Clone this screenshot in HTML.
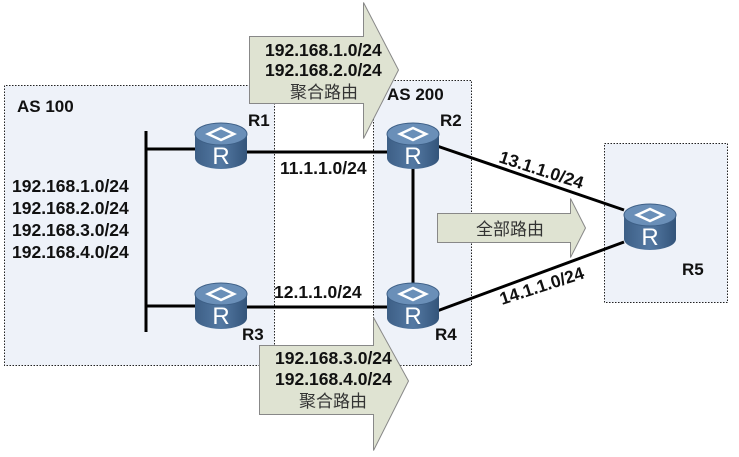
<!DOCTYPE html>
<html><head><meta charset="utf-8"><style>body{margin:0;background:#fff}svg{display:block}</style></head><body>
<svg width="739" height="457" viewBox="0 0 739 457" xmlns="http://www.w3.org/2000/svg" font-family="Liberation Sans, Noto Sans CJK SC, sans-serif">
<defs>
<linearGradient id="rb" x1="0" x2="1" y1="0" y2="0"><stop offset="0" stop-color="#3d5f86"/><stop offset="0.5" stop-color="#5479a3"/><stop offset="1" stop-color="#33547a"/></linearGradient>
<g id="rt">
<path d="M-26,-12 L-26,12 A26,11 0 0 0 26,12 L26,-12 Z" fill="url(#rb)"/>
<ellipse cx="0" cy="-12" rx="26" ry="11" fill="#6a8fb8" stroke="#3d5f86" stroke-width="1"/>
<path d="M-13,-12 L0,-18 L13,-12 L0,-6 Z" fill="none" stroke="#fff" stroke-width="2.5"/>
</g>
</defs>
<rect x="4.5" y="85.5" width="270" height="280" fill="#eef2f9"/>
<rect x="373.5" y="80.5" width="98" height="285" fill="#eef2f9"/>
<g fill="none" stroke="#222" stroke-dasharray="1.5,1.5">
<path d="M274.5,85.5 H4.5 V365.5 H274.5"/>
<path d="M373.5,80.5 H471.5 V365.5 H373.5"/>
<line x1="274.5" y1="85" x2="274.5" y2="366"/>
<line x1="373.5" y1="80" x2="373.5" y2="366"/>
<line x1="274.5" y1="365.5" x2="373.5" y2="365.5"/>
</g>
<rect x="604.5" y="143.5" width="123" height="159" fill="#eef2f9" stroke="#222" stroke-dasharray="1.5,1.5"/>
<g stroke="#000" stroke-width="3">
<line x1="146" y1="131" x2="146" y2="332"/>
<line x1="146" y1="149" x2="200" y2="149"/>
<line x1="146" y1="306" x2="200" y2="306"/>
<line x1="240" y1="152" x2="395" y2="152"/>
<line x1="240" y1="307" x2="395" y2="307"/>
<line x1="413" y1="160" x2="413" y2="292"/>
<line x1="437" y1="146" x2="624" y2="210"/>
<line x1="437" y1="311" x2="624" y2="242"/>
</g>
<g fill="#dfe3d2" stroke="#888" stroke-width="1">
<path d="M249.5,36.5 H363.5 V2.5 L398.5,70 L363.5,138.5 V103.5 H249.5 Z"/>
<path d="M259.5,345.5 H373.5 V317.5 L408.5,381 L373.5,450.5 V414.5 H259.5 Z"/>
<path d="M437.5,213.5 H570.5 V198.5 L585.5,228 L570.5,257.5 V242.5 H437.5 Z"/>
</g>
<use href="#rt" x="221" y="146"/>
<use href="#rt" x="221" y="306"/>
<use href="#rt" x="413" y="146"/>
<use href="#rt" x="413" y="306"/>
<use href="#rt" x="650" y="227"/>
<g fill="#fff" font-size="24" text-anchor="middle">
<text x="221" y="164">R</text><text x="221" y="324">R</text><text x="413" y="164">R</text><text x="413" y="324">R</text><text x="650" y="245">R</text>
</g>
<g font-weight="bold" font-size="17" fill="#111">
<text x="17" y="112">AS 100</text>
<text x="387" y="100">AS 200</text>
<text x="248" y="126">R1</text><text x="440" y="126">R2</text>
<text x="242" y="340">R3</text><text x="435" y="340">R4</text>
<text x="682" y="275">R5</text>
</g>
<g font-weight="bold" font-size="17.5" fill="#111">
<text x="12" y="192">192.168.1.0/24</text>
<text x="12" y="214">192.168.2.0/24</text>
<text x="12" y="236">192.168.3.0/24</text>
<text x="12" y="258">192.168.4.0/24</text>
<text x="280" y="174">11.1.1.0/24</text>
<text x="274" y="298">12.1.1.0/24</text>
<text x="498" y="162" transform="rotate(18 498 162)">13.1.1.0/24</text>
<text x="502" y="305" transform="rotate(-18 502 305)">14.1.1.0/24</text>
<text x="265" y="56">192.168.1.0/24</text>
<text x="265" y="76">192.168.2.0/24</text>
<text x="275" y="364">192.168.3.0/24</text>
<text x="275" y="385">192.168.4.0/24</text>
</g>
<g font-size="17" fill="#333">
<text x="290" y="98">聚合路由</text>
<text x="299" y="407">聚合路由</text>
<text x="476" y="235">全部路由</text>
</g>
</svg>
</body></html>
